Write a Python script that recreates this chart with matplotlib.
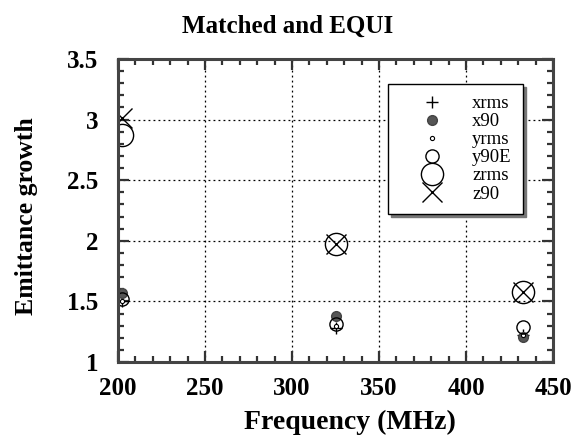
import matplotlib
matplotlib.use("Agg")
import matplotlib.pyplot as plt
from matplotlib.ticker import MultipleLocator

plt.rcParams['font.family'] = ['Liberation Serif', 'DejaVu Serif']

# Emittance growth versus frequency for each emittance measure
freqs = [202, 325, 433]
xrms = [1.50, 1.28, 1.22]
x90 = [1.57, 1.38, 1.21]
yrms = [1.50, 1.30, 1.22]
y90E = [1.52, 1.31, 1.29]
zrms = [2.87, 1.97, 1.58]
z90 = [3.01, 1.97, 1.58]

x_ticks = [200, 250, 300, 350, 400, 450]
y_ticks = [1, 1.5, 2, 2.5, 3, 3.5]
y_tick_labels = ['1', '1.5', '2', '2.5', '3', '3.5']

fig = plt.figure(figsize=(5.71, 4.36), dpi=100)
ax = fig.add_axes([0.2067, 0.1697, 0.7618, 0.695])

style = dict(linestyle='none')
ax.plot(freqs, xrms, marker='+', color='black', markersize=9, mew=1.0, label='xrms', **style)
ax.plot(freqs, x90, marker='o', color='#555555', markersize=7, mec='#444444', label='x90', **style)
ax.plot(freqs, yrms, marker='o', color='white', mec='black', markersize=3, mew=0.8, label='yrms', **style)
ax.plot(freqs, y90E, marker='o', mfc='none', mec='black', markersize=9.5, mew=1.0, label='y90E', **style)
ax.plot(freqs, zrms, marker='o', mfc='none', mec='black', markersize=16, mew=1.0, label='zrms', **style)
ax.plot(freqs, z90, marker='x', color='black', markersize=15, mew=1.0, label='z90', **style)

ax.set_xlim(200, 450)
ax.set_ylim(1, 3.5)
ax.set_xticks(x_ticks)
ax.xaxis.set_minor_locator(MultipleLocator(10))
ax.set_yticks(y_ticks)
ax.yaxis.set_minor_locator(MultipleLocator(0.1))
ax.set_yticklabels(y_tick_labels)
ax.tick_params(which='both', direction='in', top=True, right=True, color='#333333')
ax.tick_params(which='major', length=8, width=1.6, labelsize=18)
ax.tick_params(axis='x', which='major', pad=11)
ax.tick_params(axis='y', which='major', pad=14)
ax.tick_params(which='minor', length=4, width=1.6)
for lab in ax.get_xticklabels() + ax.get_yticklabels():
    lab.set_fontweight('bold')
ax.grid(True, which='major', linestyle=(0, (1.5, 2.5)), color='black', linewidth=0.9)
for s in ax.spines.values():
    s.set_linewidth(2.2)
    s.set_color('#444444')

ax.set_xlabel('Frequency (MHz)', fontsize=20, fontweight='bold')
ax.xaxis.set_label_coords(0.533, -0.158)
ax.set_ylabel('Emittance growth', fontsize=18.5, fontweight='bold')
ax.yaxis.set_label_coords(-0.185, 0.48)
ax.set_title('Matched and EQUI', fontsize=18, fontweight='bold', pad=19, x=0.389)

leg = ax.legend(loc='upper left', bbox_to_anchor=(0.621, 0.918), fontsize=13.5,
                frameon=True, fancybox=False, shadow={'color': '#777777', 'alpha': 1.0},
                edgecolor='black', framealpha=1.0, handletextpad=0.37, labelspacing=0.05,
                borderpad=0.6, handlelength=3.5, borderaxespad=0.0)
leg.get_frame().set_linewidth(1.0)

fig.savefig('out.png', dpi=100)
